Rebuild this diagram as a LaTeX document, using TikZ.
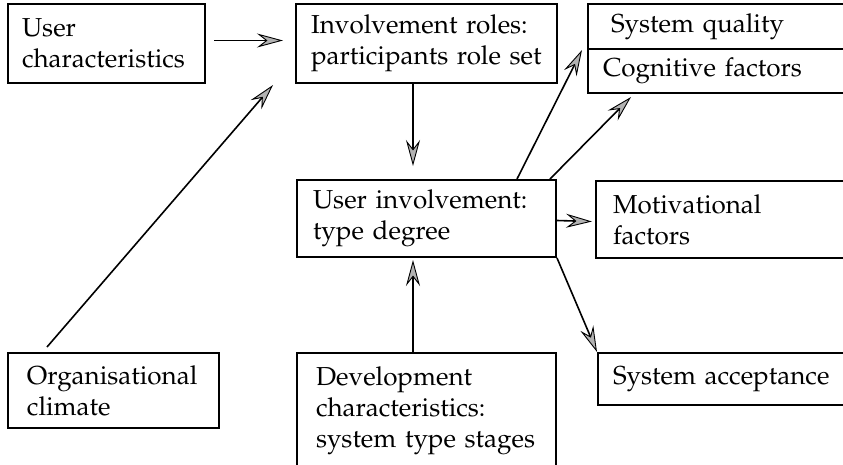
\documentclass[tikz,border=0pt]{standalone}
\usepackage[T1]{fontenc}
\renewcommand{\rmdefault}{ppl}
\usetikzlibrary{arrows.meta}

\begin{document}
\begin{tikzpicture}[x=1pt,y=-1pt,
  panel/.style={draw=black, line width=2pt, anchor=north west, inner ysep=0pt,
    align=left, font=\fontsize{26}{31}\selectfont},
  flow/.style={line width=1.6pt,
    -{Stealth[length=26pt,width=14pt,inset=9pt,fill=gray!60,line width=0.9pt]}}]
\useasboundingbox (0,0) rectangle (843,464);

% left column
\node[panel, minimum width=197pt, minimum height=79pt, inner xsep=14pt, text width=169pt]
  (uc) at (7,3) {User\\characteristics};
\node[panel, minimum width=211pt, minimum height=75pt, inner xsep=19pt, text width=173pt]
  (oc) at (7,352) {Organisational\\climate};

% middle column
\node[panel, minimum width=261pt, minimum height=79pt, inner xsep=15pt, text width=231pt]
  (ir) at (295,3) {Involvement roles:\\participants role set};
\node[panel, minimum width=259pt, minimum height=77pt, inner xsep=16pt, text width=227pt]
  (ui) at (296,179) {User involvement:\\type degree};
\node[panel, minimum width=259pt, minimum height=116pt, inner xsep=19pt, text width=221pt]
  (dc) at (296,352) {Development\\characteristics:\\system type stages};

% right column (runs off the right edge)
\node[panel, minimum width=273pt, minimum height=45pt, inner xsep=23pt, text width=227pt]
  (sq) at (587,3) {System quality};
\node[panel, minimum width=273pt, minimum height=44pt, inner xsep=15pt, text width=243pt]
  (cf) at (587,48) {Cognitive factors};
\node[panel, minimum width=265pt, minimum height=77pt, inner xsep=17pt, text width=231pt]
  (mf) at (595,180) {Motivational\\factors};
\node[panel, minimum width=263pt, minimum height=52pt, inner xsep=15pt, text width=233pt]
  (sa) at (597,352) {System acceptance};

% connectors
\draw[flow] ([xshift=8pt,yshift=3pt]uc.east) -- ([xshift=-12pt,yshift=3pt]ir.west);
\draw[flow] ([xshift=40pt,yshift=5pt]oc.north west) -- ([xshift=-22pt,yshift=-1pt]ir.south west);
\draw[flow] ([xshift=118pt]ir.south west) -- ([xshift=117pt,yshift=13pt]ui.north west);
\draw[flow] ([xshift=117pt]dc.north west) -- ([xshift=117pt,yshift=-2pt]ui.south west);
\draw[flow] ([xshift=221pt]ui.north west) -- ([xshift=-5pt,yshift=-2pt]cf.north west);
\draw[flow] ([xshift=-7pt]ui.north east) -- ([xshift=44pt,yshift=-3pt]cf.south west);
\draw[flow] ([yshift=-2pt]ui.east) -- ([xshift=-3pt,yshift=-2pt]mf.west);
\draw[flow] (ui.south east) -- (sa.north west);
\end{tikzpicture}
\end{document}
